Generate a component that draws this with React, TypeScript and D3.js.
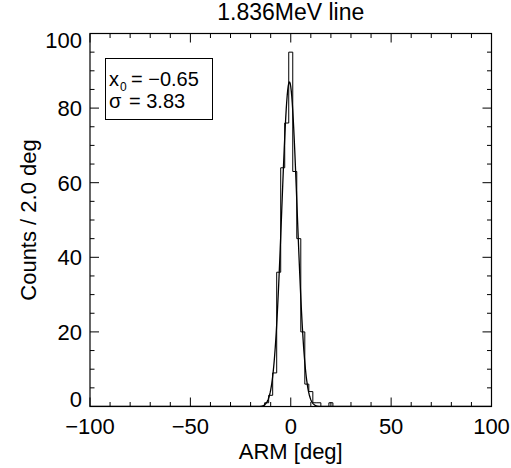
import React from "react";
import * as d3 from "d3";

const binCenters = [-12, -10, -8, -6, -4, -2, 0, 2, 4, 6, 8, 10, 12, 14, 16, 18, 20];
const binCounts = [1, 3, 9, 36, 64, 76, 95, 63, 45, 20, 6, 4, 1, 1, 0, 0, 1];
const binWidth = 2;
const fitAmplitude = 87;
const fitX0 = -0.65;
const fitSigma = 3.83;
const xTicks = [-100, -50, 0, 50, 100];
const yTicks = [0, 20, 40, 60, 80, 100];
const title = "1.836MeV line";
const xLabel = "ARM [deg]";
const yLabel = "Counts / 2.0 deg";

const W = 511;
const H = 468;
const left = 90;
const right = 491.5;
const top = 33.5;
const bottom = 406.5;
const FONT = "'Liberation Sans', Arial, Helvetica, sans-serif";
const FS = 22;

const fmt = (v: number) => (v < 0 ? "\u2212" + Math.abs(v) : String(v));

export default function App() {
  const x = d3.scaleLinear().domain([-100, 100]).range([left, right]);
  const y = d3.scaleLinear().domain([0, 100]).range([bottom, top]);

  let hp = "";
  binCenters.forEach((c, i) => {
    const x0 = x(c - binWidth / 2);
    const x1 = x(c + binWidth / 2);
    const v = y(binCounts[i]);
    if (i === 0) hp += `M${x0},${y(0)}`;
    hp += `L${x0},${v}L${x1},${v}`;
    if (i === binCenters.length - 1) hp += `L${x1},${y(0)}`;
  });

  const fitPts = d3.range(-100, 100.001, 0.25).map((d) => [
    d,
    fitAmplitude * Math.exp(-((d - fitX0) ** 2) / (2 * fitSigma * fitSigma)),
  ]);
  const fitLine = d3
    .line<number[]>()
    .x((d) => x(d[0]))
    .y((d) => y(d[1]))(fitPts as any);

  const xMinor = d3.range(-100, 100.001, 10);
  const yMinor = d3.range(0, 100.001, 5);
  const majLen = 9;
  const minLen = 4.5;

  return (
    <svg width={W} height={H} style={{ position: "absolute", left: 0, top: 0, background: "#fff" }}>
      <rect x={0} y={0} width={W} height={H} fill="#fff" />
      <defs>
        <clipPath id="plotclip">
          <rect x={left} y={top} width={right - left} height={bottom - top} />
        </clipPath>
      </defs>
      <g clipPath="url(#plotclip)">
        <path d={hp} fill="none" stroke="#000" strokeWidth={1} />
        <path d={fitLine || ""} fill="none" stroke="#000" strokeWidth={1.3} />
      </g>
      <rect x={left} y={top} width={right - left} height={bottom - top} fill="none" stroke="#000" strokeWidth={1.2} />
      {xMinor.map((t) => {
        const len = xTicks.includes(t) ? majLen : minLen;
        return (
          <g key={"xt" + t}>
            <line x1={x(t)} x2={x(t)} y1={bottom} y2={bottom - len} stroke="#000" strokeWidth={1} />
            <line x1={x(t)} x2={x(t)} y1={top} y2={top + len} stroke="#000" strokeWidth={1} />
          </g>
        );
      })}
      {yMinor.map((t) => {
        const len = yTicks.includes(t) ? majLen : minLen;
        return (
          <g key={"yt" + t}>
            <line x1={left} x2={left + len} y1={y(t)} y2={y(t)} stroke="#000" strokeWidth={1} />
            <line x1={right} x2={right - len} y1={y(t)} y2={y(t)} stroke="#000" strokeWidth={1} />
          </g>
        );
      })}
      {xTicks.map((t) => (
        <text key={"xl" + t} x={x(t)} y={434} textAnchor="middle" fontFamily={FONT} fontSize={FS} fill="#000">
          {fmt(t)}
        </text>
      ))}
      {yTicks.map((t) => {
        const cy = Math.min(Math.max(y(t), top + 7), bottom - 7);
        return (
          <text key={"yl" + t} x={82} y={cy} dy="0.36em" textAnchor="end" fontFamily={FONT} fontSize={FS} fill="#000">
            {fmt(t)}
          </text>
        );
      })}
      <text x={(left + right) / 2} y={20} textAnchor="middle" fontFamily={FONT} fontSize={23} fill="#000">
        {title}
      </text>
      <text x={(left + right) / 2} y={459} textAnchor="middle" fontFamily={FONT} fontSize={FS} fill="#000">
        {xLabel}
      </text>
      <text
        transform={`translate(36,${(top + bottom) / 2}) rotate(-90)`}
        textAnchor="middle"
        fontFamily={FONT}
        fontSize={FS}
        fill="#000"
      >
        {yLabel}
      </text>
      <rect x={105.5} y={58.5} width={107} height={61} fill="#fff" stroke="#000" strokeWidth={1} />
      <text x={109} y={86} fontFamily={FONT} fontSize={20} fill="#000">x</text>
      <text x={120} y={91} fontFamily={FONT} fontSize={12} fill="#000">0</text>
      <text x={131} y={86} fontFamily={FONT} fontSize={20} fill="#000">= {"\u2212"}0.65</text>
      <text x={109} y={108} fontFamily={FONT} fontSize={20} fill="#000">σ</text>
      <text x={129} y={108} fontFamily={FONT} fontSize={20} fill="#000">= 3.83</text>
    </svg>
  );
}
